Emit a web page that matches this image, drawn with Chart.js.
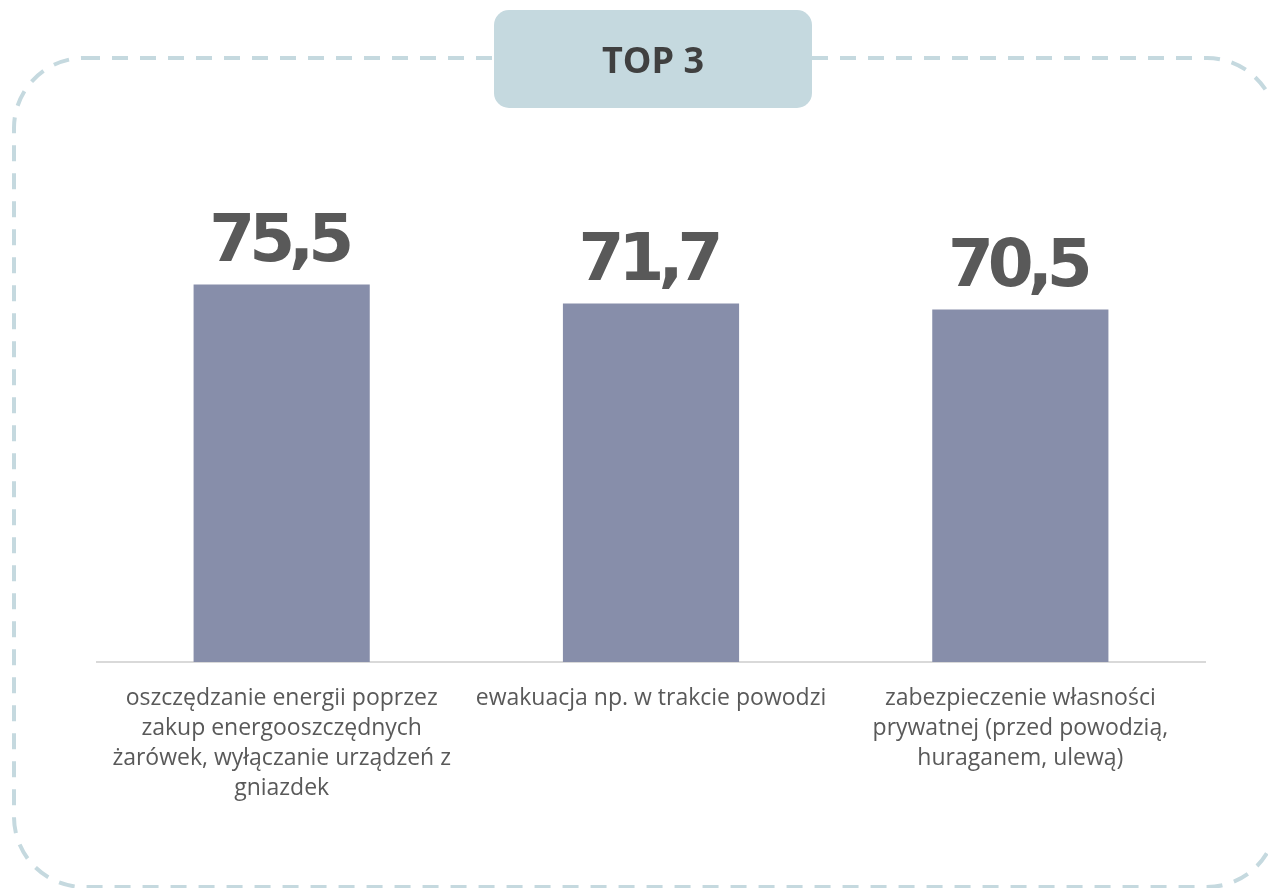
<!DOCTYPE html>
<html lang="pl">
<head>
<meta charset="utf-8">
<title>TOP 3</title>
<script src="https://cdn.jsdelivr.net/npm/chart.js@4.4.1/dist/chart.umd.min.js"></script>
<style>
  html, body { margin: 0; padding: 0; background: #ffffff; }
  #wrap { position: relative; width: 1268px; height: 888px; overflow: hidden; }
  canvas { display: block; }
</style>
</head>
<body>
<div id="wrap"><canvas id="chart" width="1268" height="888"></canvas></div>
<script>
// Categories (multi-line labels) and their values
const categories = [
  ["oszczędzanie energii poprzez", "zakup energooszczędnych", "żarówek, wyłączanie urządzeń z", "gniazdek"],
  ["ewakuacja np. w trakcie powodzi"],
  ["zabezpieczenie własności", "prywatnej (przed powodzią,", "huraganem, ulewą)"]
];
const values = [75.5, 71.7, 70.5];
const chartTitle = "TOP 3";

const FRAME = "#c5d9df";
const TEXT = "#595959";

// Dashed rounded frame and the title tab behind the chart
const framePlugin = {
  id: "frame",
  beforeDraw(chart) {
    const ctx = chart.ctx;
    ctx.save();
    ctx.strokeStyle = FRAME;
    ctx.lineWidth = 4;
    ctx.setLineDash([16, 12]);
    ctx.beginPath();
    ctx.roundRect(14, 58, 1263, 829, 70);
    ctx.stroke();
    ctx.setLineDash([]);
    ctx.fillStyle = FRAME;
    ctx.beginPath();
    ctx.roundRect(494, 10, 318, 98, 15);
    ctx.fill();
    ctx.fillStyle = "#404040";
    ctx.font = "bold 36px 'Open Sans'";
    ctx.textAlign = "center";
    ctx.textBaseline = "middle";
    ctx.fillText(chartTitle, 653, 63);
    ctx.restore();
  }
};

// Large value labels above each bar (slightly tightened tracking)
const valueLabels = {
  id: "valueLabels",
  afterDatasetsDraw(chart) {
    const ctx = chart.ctx;
    const meta = chart.getDatasetMeta(0);
    const spacing = -6;
    ctx.save();
    ctx.fillStyle = TEXT;
    ctx.font = "bold 66px 'DejaVu Sans'";
    ctx.textAlign = "left";
    ctx.textBaseline = "alphabetic";
    meta.data.forEach((bar, i) => {
      const txt = values[i].toFixed(1).replace(".", ",");
      const chars = [...txt];
      const widths = chars.map(ch => ctx.measureText(ch).width);
      let w = 0;
      widths.forEach((cw, k) => { w += cw + (k < widths.length - 1 ? spacing : 0); });
      let x = bar.x - w / 2;
      chars.forEach((ch, k) => {
        ctx.fillText(ch, x, bar.y - 24);
        x += widths[k] + spacing;
      });
    });
    ctx.restore();
  }
};

new Chart(document.getElementById("chart"), {
  type: "bar",
  data: {
    labels: categories,
    datasets: [{
      data: values,
      backgroundColor: "#878eaa",
      borderWidth: 0,
      barPercentage: 0.477,
      categoryPercentage: 1.0
    }]
  },
  options: {
    responsive: false,
    animation: false,
    layout: { padding: { top: 262, left: 97, right: 63, bottom: 0 } },
    plugins: { legend: { display: false }, tooltip: { enabled: false } },
    scales: {
      x: {
        grid: { display: false, drawTicks: false },
        border: { display: true, color: "#d9d9d9", width: 2 },
        ticks: {
          color: TEXT,
          font: { family: "'Open Sans'", size: 23, lineHeight: "30px" },
          maxRotation: 0,
          minRotation: 0,
          autoSkip: false,
          padding: 21
        },
        afterFit(scale) { scale.height = 226; }
      },
      y: {
        display: false,
        min: 0,
        max: 80
      }
    }
  },
  plugins: [framePlugin, valueLabels]
});
</script>
</body>
</html>
